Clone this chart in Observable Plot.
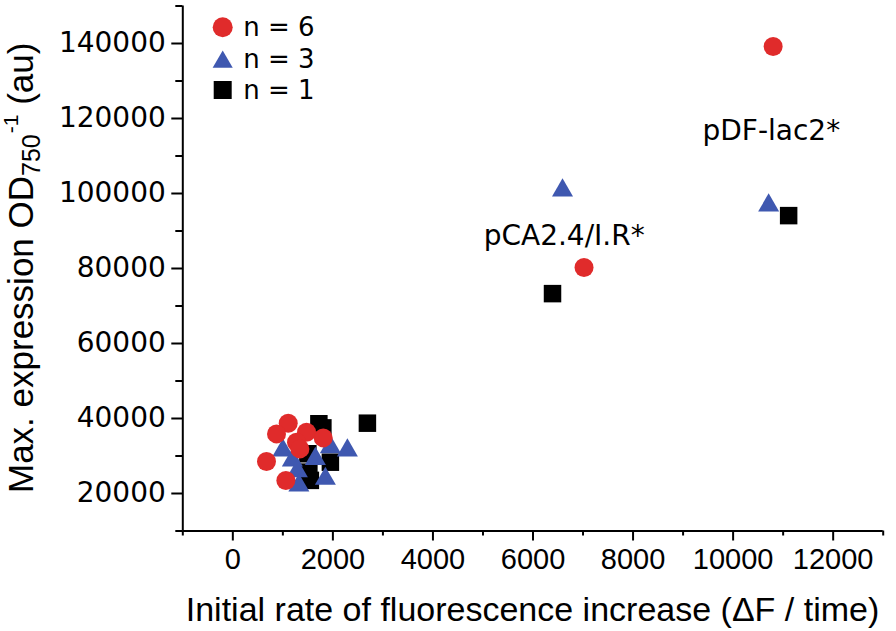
<!DOCTYPE html>
<html>
<head>
<meta charset="utf-8">
<script src="https://cdn.jsdelivr.net/npm/d3@7"></script>
<script src="https://cdn.jsdelivr.net/npm/@observablehq/plot@0.6"></script>
<style>
  html, body { margin: 0; padding: 0; background: #fff; }
  #chart { width: 896px; height: 631px; }
</style>
</head>
<body>
<div id="chart"></div>
<script>
// ---- data ----
const xDomain = [-1000, 13000];
const yDomain = [10000, 150000];
const xMajorTicks = [0, 2000, 4000, 6000, 8000, 10000, 12000];
const xMinorTicks = [-1000, 1000, 3000, 5000, 7000, 9000, 11000, 13000];
const yMajorTicks = [20000, 40000, 60000, 80000, 100000, 120000, 140000];
const yMinorTicks = [10000, 30000, 50000, 70000, 90000, 110000, 130000, 150000];

// n = 6 (red circles)
const n6x = [10800, 7020, 1107, 873, 1473, 1807, 1273, 1340, 673, 1060];
const n6y = [139200, 80270, 38750, 35900, 36350, 34830, 33690, 31900, 28530, 23470];
// n = 3 (blue triangles)
const n3x = [6590, 10710, 1000, 1190, 1650, 1950, 2290, 1290, 1320, 1850];
const n3y = [100800, 96800, 31500, 28800, 29250, 32350, 31470, 25950, 22130, 23920];
// n = 1 (black squares)
const n1x = [6390, 11110, 1720, 1800, 2690, 1500, 1950, 1550, 1520];
const n1y = [73300, 94100, 38600, 37500, 38750, 30600, 28350, 23500, 25700];

const annotLabels = ["pCA2.4/I.R*", "pDF-lac2*"];
const annotX = [5014, 9388];
const annotY = [88533, 116720];

const legendLabels = ["n = 6", "n = 3", "n = 1"];
const xTitle = "Initial rate of fluorescence increase (ΔF / time)";

const RED = "#e02b2b", BLUE = "#3f58b0", BLACK = "#000000";

const toRows = (xs, ys) => xs.map((x, i) => ({x, y: ys[i]}));
const n6 = toRows(n6x, n6y), n3 = toRows(n3x, n3y), n1 = toRows(n1x, n1y);
const annots = annotLabels.map((t, i) => ({t, x: annotX[i], y: annotY[i]}));

const plot = Plot.plot({
  width: 896,
  height: 631,
  marginLeft: 182.3,
  marginRight: 13.3,
  marginTop: 5.5,
  marginBottom: 100.5,
  style: {fontFamily: "'Liberation Sans', Arial, sans-serif", background: "#fff", color: "#000"},
  x: {domain: xDomain},
  y: {domain: yDomain},
  marks: [
    Plot.axisX({ticks: xMajorTicks, tickSize: 10, tickPadding: 7.6, tickFormat: d => String(d), fontSize: 29, strokeWidth: 2, label: null}),
    Plot.axisX({ticks: xMinorTicks, tickSize: 5, tickFormat: () => "", strokeWidth: 2, label: null}),
    Plot.axisY({ticks: yMajorTicks, tickSize: 11, tickPadding: 6, tickFormat: d => String(d), fontSize: 28, fontFamily: "'DejaVu Sans', sans-serif", strokeWidth: 2, label: null}),
    Plot.axisY({ticks: yMinorTicks, tickSize: 7, tickFormat: () => "", strokeWidth: 2, label: null}),
    Plot.ruleY([yDomain[0]], {stroke: "#000", strokeWidth: 2}),
    Plot.ruleX([xDomain[0]], {stroke: "#000", strokeWidth: 2}),
    Plot.dot(n1, {x: "x", y: "y", symbol: "square", r: 9.87, fill: BLACK, stroke: null}),
    Plot.dot(n3, {x: "x", y: "y", symbol: "triangle", r: 7.8, fill: BLUE, stroke: null}),
    Plot.dot(n6, {x: "x", y: "y", symbol: "circle", r: 9.5, fill: RED, stroke: null}),
    Plot.text(annots, {x: "x", y: "y", text: "t", textAnchor: "start", lineAnchor: "middle", fontSize: 28, fontFamily: "'DejaVu Sans', sans-serif", fill: "#000"})
  ]
});

const svg = d3.select(plot);

// X axis title
svg.append("text")
  .attr("x", 532.5).attr("y", 620.7)
  .attr("text-anchor", "middle")
  .attr("font-family", "'Liberation Sans', Arial, sans-serif")
  .attr("font-size", 34)
  .attr("fill", "#000")
  .text(xTitle);

// Y axis title with subscript / superscript
const yt = svg.append("text")
  .attr("transform", "translate(33.3,493) rotate(-90)")
  .attr("text-anchor", "start")
  .attr("font-family", "'Liberation Sans', Arial, sans-serif")
  .attr("font-size", 35)
  .attr("fill", "#000");
yt.append("tspan").text("Max. expression OD");
yt.append("tspan").attr("font-size", 25).attr("dy", 7).text("750");
yt.append("tspan").attr("font-size", 21).attr("dy", -22).attr("dx", 1).text("-1");
yt.append("tspan").attr("dy", 15).text(" (au)");

// Legend (inside the frame, top-left)
const legendColors = [RED, BLUE, BLACK];
const legendSymbols = [d3.symbolCircle, d3.symbolTriangle, d3.symbolSquare];
const legendSizes = [Math.PI * 10 * 10, 3 * Math.sqrt(3) * 5.8 * 5.8, 18 * 18];
const legendCY = [27.3, 62, 90];
const legendBase = [36, 68, 99];
const lg = svg.append("g").attr("text-anchor", "start");
legendLabels.forEach((lab, i) => {
  lg.append("path")
    .attr("transform", `translate(222.7,${legendCY[i]})`)
    .attr("d", d3.symbol(legendSymbols[i], legendSizes[i])())
    .attr("fill", legendColors[i]);
  lg.append("text")
    .attr("x", 243.3).attr("y", legendBase[i])
    .attr("text-anchor", "start")
    .attr("font-family", "'DejaVu Sans', sans-serif")
    .attr("font-size", 26)
    .attr("fill", "#000")
    .text(lab);
});

document.getElementById("chart").appendChild(plot);
</script>
</body>
</html>
